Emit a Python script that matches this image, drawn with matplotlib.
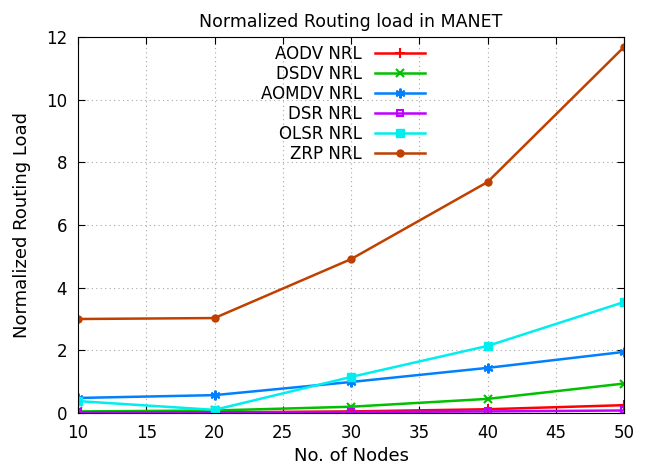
import matplotlib
matplotlib.use('Agg')
import matplotlib.pyplot as plt

nodes = [10, 20, 30, 40, 50]
aodv = [0.02, 0.02, 0.05, 0.12, 0.25]
dsdv = [0.05, 0.08, 0.2, 0.45, 0.94]
aomdv = [0.48, 0.57, 0.99, 1.44, 1.95]
dsr = [0.02, 0.02, 0.03, 0.05, 0.08]
olsr = [0.38, 0.1, 1.15, 2.14, 3.54]
zrp = [3.0, 3.03, 4.91, 7.37, 11.68]

fig = plt.figure(figsize=(6.46, 4.69), dpi=100)
# axes box: x 78..624, y 37..413 px
ax = fig.add_axes([78 / 646, 1 - 413 / 469, 546 / 646, 376 / 469])

ax.plot(nodes, aodv, color='#ff0000', marker='+', ms=7, mew=1.5, lw=1.8, label='AODV NRL')
ax.plot(nodes, dsdv, color='#00c000', marker='x', ms=6, mew=1.5, lw=1.8, label='DSDV NRL')
ax.plot(nodes, aomdv, color='#0080ff', marker=(6, 2, 0), ms=7, mew=1.5, lw=1.8, label='AOMDV NRL')
ax.plot(nodes, dsr, color='#c000ff', marker='s', ms=5, mfc='none', mew=1.5, lw=1.8, label='DSR NRL')
ax.plot(nodes, olsr, color='#00eeee', marker='s', ms=6, lw=1.8, label='OLSR NRL')
ax.plot(nodes, zrp, color='#c04000', marker='o', ms=5, lw=1.8, label='ZRP NRL')

ax.set_xlim(10, 50)
ax.set_ylim(0, 12)
ax.set_xticks(range(10, 51, 5))
ax.set_yticks(range(0, 13, 2))
ax.tick_params(direction='in', top=True, right=True, labelsize=12, length=5)
ax.tick_params(axis='x', pad=8)
ax.tick_params(axis='y', pad=8)
ax.grid(True, color='#a8a8a8', linestyle=(0, (1, 3)), lw=0.8)

ax.set_title('Normalized Routing load in MANET', fontsize=12.5, pad=7)
ax.set_xlabel('No. of Nodes', fontsize=13)
ax.set_ylabel('Normalized Routing Load', fontsize=13)
ax.xaxis.set_label_coords(0.5, -(447 - 413) / 376)
ax.yaxis.set_label_coords(-(78 - 31) / 546, 0.5)

ax.legend(loc='upper center', bbox_to_anchor=(0.485, 1.0), frameon=False, markerfirst=False,
          fontsize=12, handlelength=3.0, labelspacing=0.12, borderaxespad=0.1)

fig.savefig('out.png', dpi=100)
